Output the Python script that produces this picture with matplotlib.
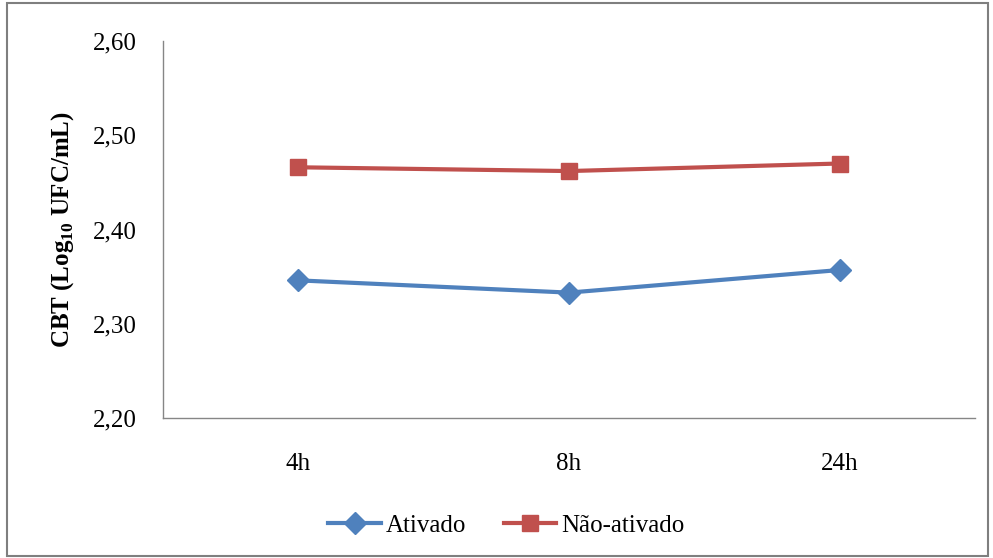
import matplotlib
matplotlib.use("Agg")
import matplotlib.pyplot as plt
from matplotlib.patches import Rectangle

plt.rcParams['font.family'] = ['Liberation Serif', 'DejaVu Serif']
plt.rcParams['mathtext.fontset'] = 'custom'
plt.rcParams['mathtext.rm'] = 'Liberation Serif'
plt.rcParams['mathtext.bf'] = 'Liberation Serif:bold'

# data
times = ["4h", "8h", "24h"]
ativado = [2.346, 2.333, 2.357]
nao_ativado = [2.466, 2.462, 2.470]
y_ticks = [2.20, 2.30, 2.40, 2.50, 2.60]

fig = plt.figure(figsize=(9.93, 5.58), dpi=100)
ax = fig.add_axes([0.164, 0.251, 0.818, 0.6755])

x = range(len(times))
ax.plot(x, ativado, color="#4F81BD", lw=3, marker="D", ms=11, label="Ativado")
ax.plot(x, nao_ativado, color="#C0504D", lw=3, marker="s", ms=12, label="Não-ativado")

ax.set_xlim(-0.5, len(times) - 0.5)
ax.set_ylim(2.20, 2.60)
ax.set_xticks(list(x))
ax.set_xticklabels(times)
ax.set_yticks(y_ticks)
ax.set_yticklabels([f"{v:.2f}".replace(".", ",") for v in y_ticks])
ax.tick_params(length=0, labelsize=18)
ax.tick_params(axis="y", pad=19)
ax.tick_params(axis="x", pad=25)

for s in ["top", "right"]:
    ax.spines[s].set_visible(False)
for s in ["left", "bottom"]:
    ax.spines[s].set_color("#868686")
    ax.spines[s].set_linewidth(1)

ax.set_ylabel(r"CBT (Log$_{\mathbf{10}}$ UFC/mL)", fontsize=18, fontweight="bold", labelpad=12)

fig.legend(loc="center", bbox_to_anchor=(0.51, 0.058), ncol=2, frameon=False,
           fontsize=18, handlelength=2.1, columnspacing=1.5, handletextpad=0.2)

fig.patches.append(Rectangle((0.007, 0.004), 0.988, 0.99, transform=fig.transFigure,
                             fill=False, edgecolor="#7f7f7f", lw=1.5))

fig.savefig("out.png", dpi=100)
